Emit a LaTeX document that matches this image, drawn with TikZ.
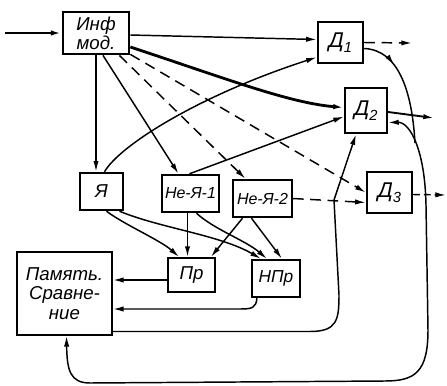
\documentclass[tikz,border=0pt]{standalone}
\usepackage{fontspec}
\setmainfont{Liberation Sans}
\usetikzlibrary{arrows.meta,calc,decorations.markings}
\newcommand{\dsub}[1]{Д\raisebox{-0.45ex}{\fontsize{11}{11}\selectfont #1}}
\begin{document}
\begin{tikzpicture}[x=0.75pt,y=-0.75pt,
  box/.style={draw,line width=1.6pt,inner sep=1pt,font=\fontsize{14}{14}\selectfont\itshape,align=center},
  conn/.style={line width=1.1pt,-{Latex[length=8pt,width=4pt]}},
  dsh/.style={conn,dash pattern=on 8pt off 5pt},
  plain/.style={line width=1.1pt}]
\useasboundingbox (0,0) rectangle (447,386);
% nodes
\node[box,minimum width=50pt,minimum height=32pt] (inf) at (96,33) {Инф\\мод.};
\node[box,minimum width=34pt,minimum height=31pt,font=\fontsize{16}{16}\selectfont\itshape] (d1) at (340.5,42.5) {\dsub{1}};
\node[box,minimum width=31.5pt,minimum height=34pt,font=\fontsize{16}{16}\selectfont\itshape] (d2) at (366,110.5) {\dsub{2}};
\node[box,minimum width=34pt,minimum height=31pt,font=\fontsize{16}{16}\selectfont\itshape] (d3) at (389.5,192.5) {\dsub{3}};
\node[box,minimum width=32pt,minimum height=28pt] (ya) at (101.5,191.5) {Я};
\node[box,minimum width=43pt,minimum height=28pt,font=\fontsize{12}{12}\selectfont\itshape] (ne1) at (190.5,193.5) {Не-Я-1};
\node[box,minimum width=44pt,minimum height=28pt,font=\fontsize{12}{12}\selectfont\itshape] (ne2) at (262.5,198.5) {Не-Я-2};
\node[box,minimum width=35pt,minimum height=25.5pt] (pr) at (191.5,275) {Пр};
\node[box,minimum width=36pt,minimum height=28pt,font=\fontsize{13}{13}\selectfont\itshape] (npr) at (276,278.5) {НПр};
\node[box,minimum width=71pt,minimum height=62pt,font=\fontsize{14}{14.5}\selectfont\itshape] (mem) at (64.5,293.5) {Память.\\Сравне-\\ние};
% free ends
\coordinate (src) at (5,33);
\coordinate (o1) at (412,43);
\coordinate (o2) at (434,118);
\coordinate (o3) at (446,195);
\coordinate (jn) at (426,205);
% connectors
\draw[conn,line width=1.8pt] (src) -- (inf.west);
\draw[conn] ($(inf.east)+(0,2)$) -- ($(d1.west)+(0,-3)$);
\draw[conn,line width=2.1pt] ($(inf.east)+(0,14)$) .. controls (230,80) and (290,103) .. ($(d2.west)+(0,-3)$);
\draw[conn] (inf.south) -- (inf.south |- ya.north);
\draw[conn] ($(inf.south)+(7,0)$) -- ($(ne1.north)+(-12,0)$);
\draw[dsh] ($(inf.south east)+(-11,0)$) -- ($(ne2.north)+(-17,0)$);
\draw[dsh] ($(inf.south east)+(0,-1)$) -- (d3.west);
\draw[conn] ($(ya.north)+(3,0)$) .. controls (120,145) and (200,95) .. ($(d1.south west)+(0,-7)$);
\draw[conn] ($(ne1.north)+(-1,0)$) -- ($(d2.west)+(0,6)$);
\draw[dsh] (ne2.east) -- ($(d3.west)+(0,10)$);
\draw[dsh] (d1.east) -- (o1);
\draw[conn,line width=1.4pt] ($(d2.east)+(0,1.5)$) -- (o2);
\draw[dsh,dash pattern=on 5pt off 3pt] ($(d3.east)+(0,2)$) -- (o3);
% loop
\draw[conn] (jn) .. controls (425,150) and (410,122) .. ($(d2.east)+(0,12)$);
\draw[conn] (jn) -- (428,330) .. controls (428,372) and (415,381) .. (385,381) -- (90,383) .. controls (70,383) and (67,370) .. ($(mem.south)+(2,0)$);
\draw[plain,postaction=decorate,decoration={markings,mark=at position 0.3 with {\arrow{Latex[length=8pt,width=4pt]}}}] ($(d1.east)+(0,6)$) .. controls (398,50) and (412,90) .. (415,143);
% feedback memory -> D2
\draw[conn] ($(mem.east)+(0,38)$) -- (310,331.5) .. controls (337,331.5) and (339,320) .. (339,295) -- (334,200) -- ($(d2.south)+(-10,0)$);
% lower
\draw[conn] ($(npr.south west)+(6,0)$) .. controls (256,308) and (252,309) .. (240,309) -- ($(mem.east)+(0,15.5)$);
\draw[conn] ($(pr.west)+(0,5)$) -- ($(mem.east)+(0,-13.5)$);
\draw[conn] ($(ya.south)+(5,0)$) .. controls (125,225) and (160,240) .. ($(pr.north west)+(12,0)$);
\draw[conn] ($(ya.south)+(18,0)$) .. controls (160,228) and (220,235) .. ($(npr.north west)+(10,0)$);
\draw[conn] ($(ne1.south)+(-3,0)$) -- ($(pr.north)+(-4,0)$);
\draw[conn] ($(ne1.south)+(6,0)$) .. controls (215,230) and (245,240) .. ($(npr.north west)+(16,0)$);
\draw[conn] ($(ne2.south)+(-20,0)$) -- ($(pr.north east)+(-5,0)$);
\draw[conn] ($(ne2.south)+(-11,0)$) -- ($(npr.north)+(6,0)$);
\end{tikzpicture}
\end{document}
